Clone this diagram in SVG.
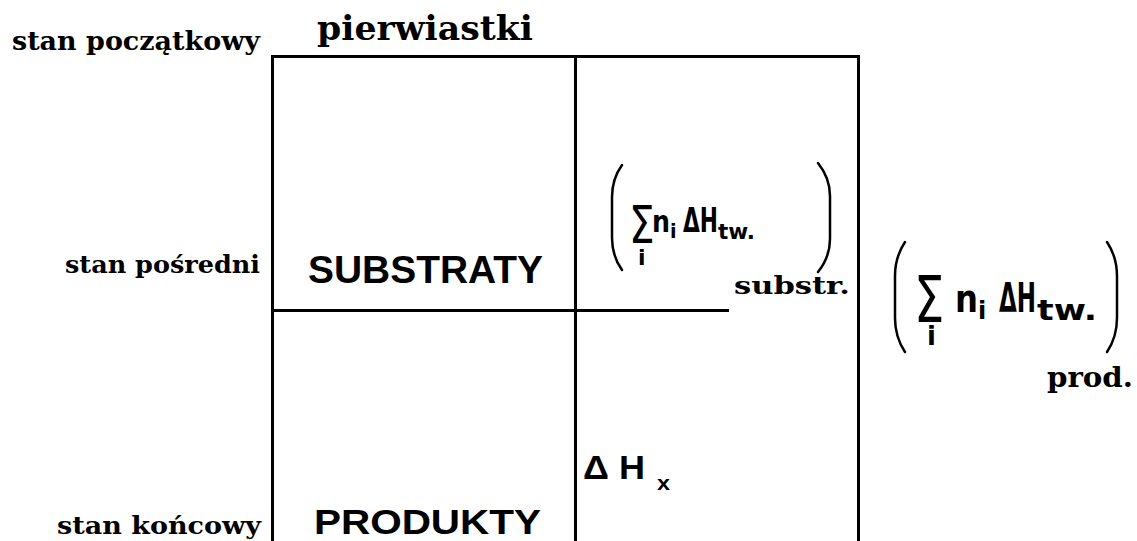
<svg xmlns="http://www.w3.org/2000/svg" width="1137" height="541" viewBox="0 0 1137 541">
<style>
.lbl{font-family:"DejaVu Serif","Liberation Serif",serif;font-weight:bold;fill:#000}
.cap{font-family:"Liberation Sans","DejaVu Sans",sans-serif;font-weight:bold;fill:#000}
.fx{font-family:"DejaVu Sans","Liberation Sans",sans-serif;font-weight:bold;fill:#000}
.sig{font-family:"DejaVu Sans","Liberation Sans",sans-serif;font-weight:normal;fill:#000}
.ln{stroke:#000;stroke-width:3;fill:none}
.par{stroke:#000;stroke-width:2.5;fill:none;stroke-linecap:round}
</style>
<rect width="1137" height="541" fill="#fff"/>
<g id="connectors">
<line class="ln" x1="271" y1="56.5" x2="860" y2="56.5"/>
<line class="ln" x1="272.5" y1="55" x2="272.5" y2="541"/>
<line class="ln" x1="575.5" y1="55" x2="575.5" y2="541"/>
<line class="ln" x1="858.5" y1="55" x2="858.5" y2="541"/>
<line class="ln" x1="272" y1="310.5" x2="729" y2="310.5"/>
</g>
<g id="label-poczatkowy"><text class="lbl" x="12" y="50" font-size="26" textLength="248" lengthAdjust="spacingAndGlyphs">stan początkowy</text></g>
<g id="label-pierwiastki"><text class="lbl" x="317" y="40" font-size="34" textLength="216" lengthAdjust="spacingAndGlyphs">pierwiastki</text></g>
<g id="label-posredni"><text class="lbl" x="65" y="273" font-size="24" textLength="195" lengthAdjust="spacingAndGlyphs">stan pośredni</text></g>
<g id="label-koncowy"><text class="lbl" x="57" y="534" font-size="24" textLength="204" lengthAdjust="spacingAndGlyphs">stan końcowy</text></g>
<g id="node-substraty"><text class="cap" x="308" y="283" font-size="38" textLength="235" lengthAdjust="spacingAndGlyphs">SUBSTRATY</text></g>
<g id="node-produkty"><text class="cap" x="314" y="534" font-size="35" textLength="227" lengthAdjust="spacingAndGlyphs">PRODUKTY</text></g>
<g id="node-dh">
<text class="cap" x="583" y="479" font-size="34" textLength="62" lengthAdjust="spacingAndGlyphs">Δ H</text>
<text class="cap" x="657" y="490" font-size="21" textLength="13" lengthAdjust="spacingAndGlyphs">x</text>
</g>
<g id="formula-substr">
<path class="par" d="M622,165 Q612,179 612,197 L612,238 Q612,256 622,270"/>
<path class="par" d="M818,163 Q830,178 830,196 L830,239 Q830,257 818,272"/>
<text class="sig" transform="translate(629,243) scale(0.78,1)" font-size="52">Σ</text>
<text class="fx" x="638" y="265" font-size="22">i</text>
<text class="fx" x="652" y="232" font-size="30" textLength="18" lengthAdjust="spacingAndGlyphs">n</text>
<text class="fx" x="670" y="238" font-size="19">i</text>
<text class="fx" x="683" y="232" font-size="33" textLength="35" lengthAdjust="spacingAndGlyphs">ΔH</text>
<text class="fx" x="718" y="239" font-size="22" textLength="37" lengthAdjust="spacingAndGlyphs">tw.</text>
<text class="lbl" x="734" y="294" font-size="25" textLength="116" lengthAdjust="spacingAndGlyphs">substr.</text>
</g>
<g id="formula-prod">
<path class="par" d="M905,242 Q895,257 895,276 L895,318 Q895,337 905,352"/>
<path class="par" d="M1107,242 Q1117,257 1117,276 L1117,318 Q1117,337 1107,352"/>
<text class="sig" transform="translate(914,322) scale(0.75,1)" font-size="64">Σ</text>
<text class="fx" x="927" y="345" font-size="26">i</text>
<text class="fx" x="955" y="312" font-size="38" textLength="23" lengthAdjust="spacingAndGlyphs">n</text>
<text class="fx" x="978" y="319" font-size="24">i</text>
<text class="fx" x="999" y="312" font-size="41" textLength="37" lengthAdjust="spacingAndGlyphs">ΔH</text>
<text class="fx" x="1037" y="320" font-size="28" textLength="60" lengthAdjust="spacingAndGlyphs">tw.</text>
<text class="lbl" x="1047" y="387" font-size="27" textLength="86" lengthAdjust="spacingAndGlyphs">prod.</text>
</g>
</svg>
